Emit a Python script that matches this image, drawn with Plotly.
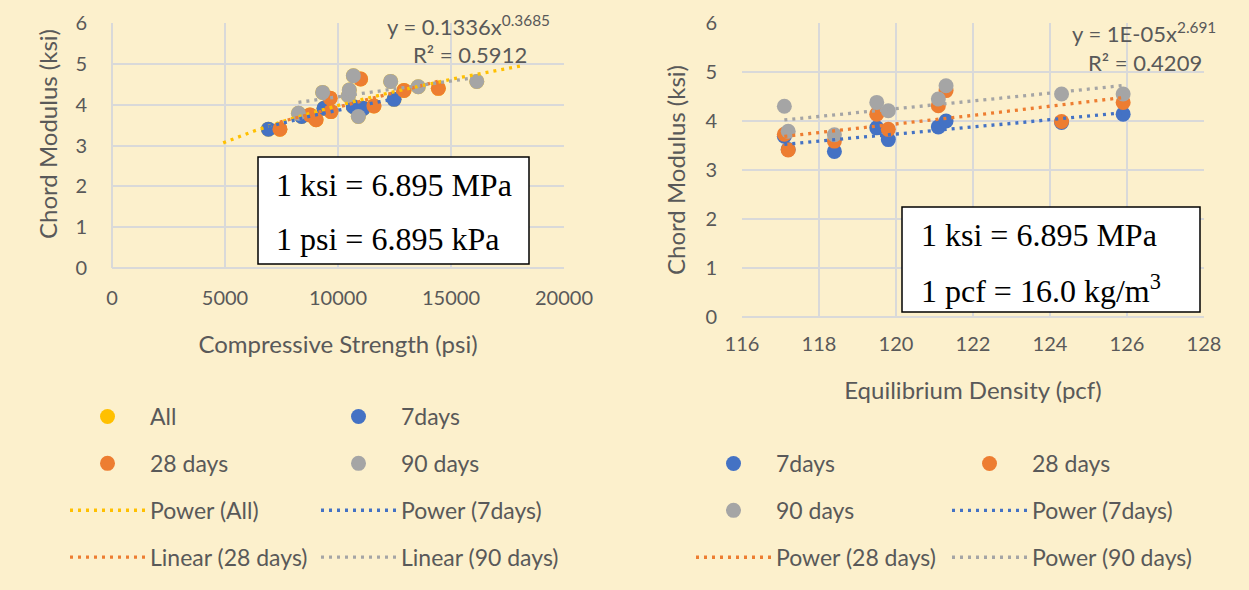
import numpy as np
import plotly.graph_objects as go

# ---------------- Compressive strength (psi) vs chord modulus (ksi) ----------------
strength_7d = [6920, 8390, 9380, 10680, 11120, 12480]
modulus_7d = [3.40, 3.71, 3.91, 3.95, 3.91, 4.13]

strength_28d = [7430, 8760, 9030, 9650, 9690, 11000, 11590, 12920, 14440]
modulus_28d = [3.40, 3.75, 3.63, 4.16, 3.83, 4.63, 3.97, 4.35, 4.40]

strength_90d = [8250, 9320, 10460, 10500, 10680, 10900, 12330, 13550, 16140]
modulus_90d = [3.79, 4.30, 4.22, 4.36, 4.71, 3.71, 4.57, 4.44, 4.57]

# ---------------- Equilibrium density (pcf) vs chord modulus (ksi) ----------------
density = [117.1, 117.2, 118.4, 119.5, 119.8, 121.1, 121.3, 124.3, 125.9]
dens_mod_7d = [3.69, 3.42, 3.38, 3.86, 3.62, 3.88, 4.00, 3.97, 4.14]
dens_mod_28d = [3.73, 3.41, 3.59, 4.14, 3.83, 4.31, 4.62, 3.99, 4.38]
dens_mod_90d = [4.30, 3.79, 3.72, 4.38, 4.21, 4.45, 4.72, 4.55, 4.55]

# Trendline equations printed on the charts
all_coef, all_exp, all_r2 = 0.1336, 0.3685, 0.5912
d28_coef, d28_exp, d28_r2 = 1e-05, 2.691, 0.4209
all_forecast = 2000  # psi extension of the "All" trendline on both sides

# ---------------- styling ----------------
W, H = 1249, 590
BG = "#FCF0CC"
GRID = "#D9D9D9"
TXT = "#595959"
C_ALL, C7, C28, C90 = "#FFC000", "#4472C4", "#ED7D31", "#A5A5A5"
SANS = "Lato"
SERIF = "Liberation Serif"
MS = 15
DOT = "3px,5px"


def px(x):
    return x / W


def py(y):
    return 1 - y / H


def power_fit(x, y):
    b, ln_a = np.polyfit(np.log(x), np.log(y), 1)
    return np.exp(ln_a), b


def span(x, pad=0.0):
    return np.linspace(min(x) - pad, max(x) + pad, 80)


fig = go.Figure()


def markers(x, y, name, color, xa, ya, legend):
    fig.add_trace(go.Scatter(
        x=x, y=y, mode="markers", name=name, xaxis=xa, yaxis=ya,
        legend=legend, legendgroup=f"{legend}-{name}",
        marker=dict(color=color, size=MS, line=dict(width=0)),
    ))


def trend(x, y, name, color, xa, ya, legend):
    fig.add_trace(go.Scatter(
        x=x, y=y, mode="lines", name=name, xaxis=xa, yaxis=ya,
        legend=legend, legendgroup=f"{legend}-{name}",
        line=dict(color=color, width=3.3, dash=DOT), hoverinfo="skip",
    ))


# ---- left chart ----
strength_all = strength_7d + strength_28d + strength_90d
modulus_all = modulus_7d + modulus_28d + modulus_90d

markers(strength_all, modulus_all, "All", C_ALL, "x", "y", "legend")
markers(strength_7d, modulus_7d, "7days", C7, "x", "y", "legend2")
markers(strength_28d, modulus_28d, "28 days", C28, "x", "y", "legend")
markers(strength_90d, modulus_90d, "90 days", C90, "x", "y", "legend2")

xs = span(strength_all, all_forecast)
trend(xs, all_coef * xs ** all_exp, "Power (All)", C_ALL, "x", "y", "legend")

a7, b7 = power_fit(strength_7d, modulus_7d)
xs = span(strength_7d)
trend(xs, a7 * xs ** b7, "Power (7days)", C7, "x", "y", "legend2")

m28, c28 = np.polyfit(strength_28d, modulus_28d, 1)
xs = span(strength_28d)
trend(xs, m28 * xs + c28, "Linear (28 days)", C28, "x", "y", "legend")

m90, c90 = np.polyfit(strength_90d, modulus_90d, 1)
xs = span(strength_90d)
trend(xs, m90 * xs + c90, "Linear (90 days)", C90, "x", "y", "legend2")

# ---- right chart ----
markers(density, dens_mod_7d, "7days", C7, "x2", "y2", "legend3")
markers(density, dens_mod_28d, "28 days", C28, "x2", "y2", "legend4")
markers(density, dens_mod_90d, "90 days", C90, "x2", "y2", "legend3")

xs = span(density)
pa7, pb7 = power_fit(density, dens_mod_7d)
trend(xs, pa7 * xs ** pb7, "Power (7days)", C7, "x2", "y2", "legend4")
trend(xs, d28_coef * xs ** d28_exp, "Power (28 days)", C28, "x2", "y2", "legend3")
pa90, pb90 = power_fit(density, dens_mod_90d)
trend(xs, pa90 * xs ** pb90, "Power (90 days)", C90, "x2", "y2", "legend4")

# ---------------- axes ----------------
tick_font = dict(family=SANS, size=20, color=TXT)
title_font = dict(family=SANS, size=24, color=TXT)
grid = dict(showgrid=True, gridcolor=GRID, gridwidth=1.6, zeroline=True,
            zerolinecolor=GRID, zerolinewidth=1.6, showline=False, ticks="",
            tickfont=tick_font, fixedrange=True, automargin=False)

fig.update_layout(
    xaxis=dict(domain=[px(112), px(564)], range=[0, 20000], dtick=5000,
               tickformat="d", anchor="y", ticklabelstandoff=16,
               title=dict(text="Compressive Strength (psi)", font=title_font, standoff=28),
               **grid),
    yaxis=dict(domain=[py(268), py(23)], range=[0, 6], dtick=1, anchor="x",
               ticklabelstandoff=24, **grid),
    xaxis2=dict(domain=[px(742), px(1204)], range=[116, 128], dtick=2,
                anchor="y2", ticklabelstandoff=13,
                title=dict(text="Equilibrium Density (pcf)", font=title_font, standoff=28),
                **grid),
    yaxis2=dict(domain=[py(317), py(23)], range=[0, 6], dtick=1, anchor="x2",
                ticklabelstandoff=24,
                title=dict(text="Chord Modulus (ksi)", font=title_font, standoff=12),
                **grid),
)

# Left value-axis title sits slightly above the plot's vertical centre
fig.add_annotation(x=px(48), y=py(134), xref="paper", yref="paper",
                   xanchor="center", yanchor="middle", textangle=-90,
                   text="Chord Modulus (ksi)", showarrow=False, font=title_font)

# ---------------- legends ----------------
def legend_at(x_px, y_px):
    return dict(x=px(x_px), y=py(y_px), xanchor="left", yanchor="top",
                orientation="v", bgcolor="rgba(0,0,0,0)", borderwidth=0,
                font=dict(family=SANS, size=23, color=TXT),
                itemwidth=75, tracegroupgap=14, itemclick=False,
                itemdoubleclick=False)


fig.update_layout(
    legend=legend_at(65, 395),
    legend2=legend_at(316, 395),
    legend3=legend_at(691, 442),
    legend4=legend_at(947, 442),
)

# ---------------- conversion boxes ----------------
fig.add_shape(type="rect", xref="paper", yref="paper",
              x0=px(258), x1=px(529), y0=py(264), y1=py(157),
              fillcolor="white", line=dict(color="black", width=1.5), layer="above")
fig.add_shape(type="rect", xref="paper", yref="paper",
              x0=px(902), x1=px(1200), y0=py(312), y1=py(207),
              fillcolor="white", line=dict(color="black", width=1.5), layer="above")

serif_font = dict(family=SERIF, size=32, color="black")
box_lines = [
    (274, 185, "1 ksi = 6.895 MPa"),
    (274, 239, "1 psi = 6.895 kPa"),
    (919, 235, "1 ksi = 6.895 MPa"),
    (919, 289, "1 pcf = 16.0 kg/m<sup>3</sup>"),
]
for x0, yc, txt in box_lines:
    fig.add_annotation(x=px(x0), y=py(yc), xref="paper", yref="paper",
                       xanchor="left", yanchor="middle", text=txt,
                       showarrow=False, font=serif_font)

# ---------------- trendline labels ----------------
eq_font = dict(family=SANS, size=22, color=TXT)
eq_lines = [
    (468, 25, f"y = {all_coef}x<sup>{all_exp}</sup>"),
    (470, 55, f"R² = {all_r2}"),
    (1144, 32, f"y = 1E-05x<sup>{d28_exp}</sup>"),
    (1145, 62, f"R² = {d28_r2}"),
]
for xc, yc, txt in eq_lines:
    fig.add_annotation(x=px(xc), y=py(yc), xref="paper", yref="paper",
                       xanchor="center", yanchor="middle", text=txt,
                       showarrow=False, font=eq_font)

fig.update_layout(
    width=W, height=H, autosize=False,
    margin=dict(l=0, r=0, t=0, b=0, autoexpand=False),
    paper_bgcolor=BG, plot_bgcolor=BG,
    showlegend=True,
)

fig.write_html("out.html", config={"displayModeBar": False})
